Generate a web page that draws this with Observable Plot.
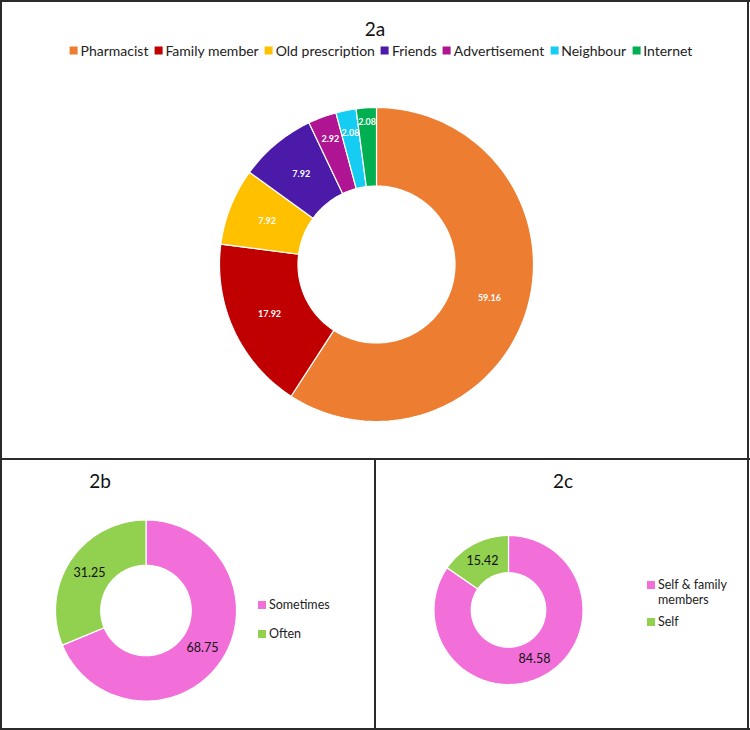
<!DOCTYPE html>
<html><head><meta charset="utf-8">
<script src="https://cdn.jsdelivr.net/npm/d3@7"></script>
<script src="https://cdn.jsdelivr.net/npm/@observablehq/plot@0.6"></script>
<style>
body{margin:0;background:#fff;font-family:Lato,"Open Sans",sans-serif;}
#wrap{position:relative;width:750px;height:730px;overflow:hidden;background:#fff;}
.ln{position:absolute;background:#2b2b2b;}
.title{position:absolute;font-size:19px;color:#111;transform:translate(-50%,-50%);white-space:nowrap;line-height:1;}
.legend{position:absolute;display:flex;align-items:center;font-size:14px;color:#222;white-space:nowrap;transform:translate(-50%,-50%);}
.legend .it{display:flex;align-items:center;margin-right:6px;}
.sw{display:inline-block;width:8px;height:8px;margin-right:3px;}
.vleg{position:absolute;font-size:12.5px;color:#222;}
.vleg .it{display:flex;align-items:flex-start;line-height:15px;}
.vleg .sw{margin-top:4px;flex:none;}
.plot{position:absolute;}
</style></head>
<body><div id="wrap"></div>
<script>
// ---- data ----
const sources = ["Pharmacist","Family member","Old prescription","Friends","Advertisement","Neighbour","Internet"];
const sourceValues = [59.16,17.92,7.92,7.92,2.92,2.08,2.08];
const frequency = ["Sometimes","Often"];
const frequencyValues = [68.75,31.25];
const users = ["Self & family members","Self"];
const userValues = [84.58,15.42];
// ---- palettes ----
const sourceColors = ["#ED7D31","#C00000","#FFC000","#4B1AA8","#AF1592","#15CCF2","#00B050"];
const pairColors = ["#F26ED8","#92D050"];

const wrap = document.getElementById("wrap");
const fmt = d3.format(".2f");

function donut({names, values, colors, cx, cy, R, inner, left, top, width, height, label}) {
  const arcs = d3.pie().sort(null).value(d => d.value)(names.map((n, i) => ({name: n, value: values[i]})));
  const pts = [];
  for (const a of arcs) {
    const steps = Math.max(3, Math.ceil((a.endAngle - a.startAngle) / (2 * Math.PI) * 240));
    for (let k = 0; k <= steps; k++) {
      const t = a.startAngle + (a.endAngle - a.startAngle) * k / steps;
      pts.push({name: a.data.name, x: Math.sin(t), y: Math.cos(t)});
    }
    for (let k = steps; k >= 0; k--) {
      const t = a.startAngle + (a.endAngle - a.startAngle) * k / steps;
      pts.push({name: a.data.name, x: inner * Math.sin(t), y: inner * Math.cos(t)});
    }
  }
  // label placement: mid-ring, pushed outward for thin slices and on collisions
  const mr = (1 + inner) / 2;
  const labels = [];
  let prev = null;
  for (const a of arcs) {
    const m = (a.startAngle + a.endAngle) / 2;
    let r = a.data.value < 5 ? mr + 0.1 : mr;
    const w = label.size * 2.2 / R, h = label.size * 1.1 / R;
    let x = r * Math.sin(m), y = r * Math.cos(m);
    while (prev && Math.abs(x - prev.x) < w && Math.abs(y - prev.y) < h && r < 1.1) {
      r += 0.02; x = r * Math.sin(m); y = r * Math.cos(m);
    }
    prev = {x, y};
    labels.push({x, y, text: fmt(a.data.value)});
  }
  const svg = Plot.plot({
    width, height, margin: 0,
    style: {background: "transparent", fontFamily: "Lato, 'Open Sans', sans-serif", overflow: "visible"},
    x: {domain: [-1, 1], range: [cx - R - left, cx + R - left], axis: null},
    y: {domain: [-1, 1], range: [cy + R - top, cy - R - top], axis: null},
    color: {domain: names, range: colors},
    marks: [
      Plot.line(pts, {x: "x", y: "y", z: "name", fill: "name", stroke: "white", strokeWidth: 1.2, curve: "linear-closed"}),
      Plot.text(labels, {x: "x", y: "y", text: "text", fill: label.fill, fontSize: label.size, fontWeight: label.weight})
    ]
  });
  svg.classList.add("plot");
  svg.style.left = left + "px";
  svg.style.top = top + "px";
  wrap.appendChild(svg);
}

function el(cls, html, styles) {
  const d = document.createElement("div");
  d.className = cls; d.innerHTML = html;
  Object.assign(d.style, styles);
  wrap.appendChild(d);
  return d;
}
function vlegend(names, colors, gap, styles) {
  el("vleg", names.map((s, i) => `<div class="it" style="margin-bottom:${gap}px"><span class="sw" style="background:${colors[i]}"></span><span>${s}</span></div>`).join(""), styles);
}

// frames
el("ln", "", {left: "0px", top: "0px", width: "750px", height: "1.5px"});
el("ln", "", {left: "0px", top: "0px", width: "2px", height: "730px"});
el("ln", "", {left: "747px", top: "0px", width: "2px", height: "730px"});
el("ln", "", {left: "0px", top: "728px", width: "750px", height: "2px"});
el("ln", "", {left: "0px", top: "458px", width: "750px", height: "2px"});
el("ln", "", {left: "374px", top: "458px", width: "2px", height: "272px"});

// 2a
el("title", "2a", {left: "375px", top: "28px"});
el("legend", sources.map((s, i) => `<span class="it"><span class="sw" style="background:${sourceColors[i]}"></span>${s}</span>`).join(""), {left: "384px", top: "50px"});
donut({names: sources, values: sourceValues, colors: sourceColors, cx: 376, cy: 264, R: 157, inner: 0.5,
  left: 2, top: 70, width: 744, height: 386, label: {fill: "white", size: 9, weight: "bold"}});

// 2b
el("title", "2b", {left: "100px", top: "480px"});
donut({names: frequency, values: frequencyValues, colors: pairColors, cx: 145.5, cy: 610, R: 90.5, inner: 0.5,
  left: 2, top: 462, width: 370, height: 264, label: {fill: "#111", size: 12.5, weight: "normal"}});
vlegend(frequency, pairColors, 14, {left: "258px", top: "597px", width: "100px"});

// 2c
el("title", "2c", {left: "563px", top: "480px"});
donut({names: users, values: userValues, colors: pairColors, cx: 508, cy: 609.5, R: 74.5, inner: 0.5,
  left: 377, top: 462, width: 368, height: 264, label: {fill: "#111", size: 12.5, weight: "normal"}});
vlegend(users, pairColors, 7, {left: "647px", top: "576.5px", width: "95px"});
</script>
</body></html>
